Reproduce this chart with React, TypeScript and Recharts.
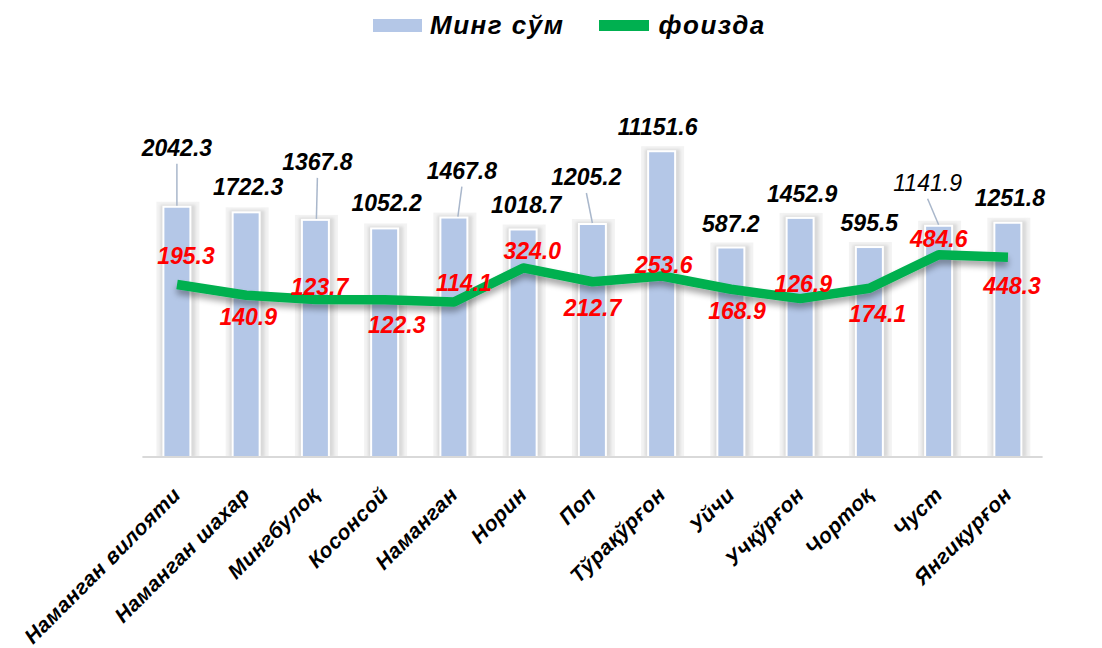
import React from 'react';
import { ComposedChart, Bar, Line, XAxis, YAxis, Legend, LabelList } from 'recharts';

const districts = [
  'Наманган вилояти', 'Наманган шахар', 'Мингбулоқ', 'Косонсой', 'Наманган', 'Норин', 'Поп',
  'Тўрақўрғон', 'Уйчи', 'Учқўрғон', 'Чортоқ', 'Чуст', 'Янгиқурғон',
];
const mingSum = [2042.3, 1722.3, 1367.8, 1052.2, 1467.8, 1018.7, 1205.2, 11151.6, 587.2, 1452.9, 595.5, 1141.9, 1251.8];
const foizda = [195.3, 140.9, 123.7, 122.3, 114.1, 324.0, 212.7, 253.6, 168.9, 126.9, 174.1, 484.6, 448.3];

const data = districts.map((name, i) => ({ name, sum: mingSum[i], pct: foizda[i] }));

// label nudges (dx, dy from bar top / line point), leader line flag
const barLabelPos: [number, number, boolean][] = [
  [0, -60, true], [2, -26, false], [2, -59, true], [2, -26, false], [8, -48, true], [3, -25, false],
  [-6, -48, true], [-4, -25, false], [0, -25, false], [2, -25, false], [0, -25, false], [-11, -44, true], [2, -26, false],
];
const lineLabelPos: [number, number][] = [
  [9, -29], [2, 22], [4, -12], [12, 25], [10, -19], [9, -17], [0, 26], [2, -11], [6, 22], [3, -15], [8, 26], [0, -16], [4, 29],
];

const FONT = 'Arial, "Liberation Sans", sans-serif';

const BarShape = (props: any) => {
  const { x, y, width, height } = props;
  if (height <= 0) return null;
  return (
    <g>
      <rect x={x - 8} y={y - 6} width={width + 18} height={height + 6} fill="#F3F3F3" />
      <rect x={x - 4} y={y - 3} width={width + 10} height={height + 3} fill="#D9D9D9" filter="url(#soft)" />
      <rect x={x - 2} y={y - 2} width={width + 4} height={height + 2} fill="#FFFFFF" />
      <rect x={x} y={y} width={width} height={height} fill="#B4C7E7" />
    </g>
  );
};

const BarLabel = (props: any) => {
  const { x, y, width, value } = props;
  const i = props.index ?? mingSum.indexOf(value);
  const [dx, dy, leader] = barLabelPos[i] || [0, -25, false];
  const cx = x + width / 2;
  const tx = cx + dx;
  const ty = y + dy;
  return (
    <g>
      {leader && (
        <line x1={tx} y1={ty + 16} x2={cx + (dx < -3 ? 0 : dx / 2)} y2={y - 2} stroke="#A9B7CB" strokeWidth={1.5} />
      )}
      <text x={tx} y={ty} dy={8} textAnchor="middle" fill="#000" fontFamily={FONT}
        fontSize={23} fontStyle="italic" fontWeight={i === 11 ? 'normal' : 'bold'}>
        {Number(value).toFixed(1)}
      </text>
    </g>
  );
};

const LineLabel = (props: any) => {
  const { x, y, value } = props;
  const i = props.index ?? foizda.indexOf(value);
  const [dx, dy] = lineLabelPos[i] || [0, -20];
  return (
    <text x={x + dx} y={y + dy} dy={8} textAnchor="middle" fill="#FF0000" fontFamily={FONT}
      fontSize={23} fontStyle="italic" fontWeight="bold">
      {Number(value).toFixed(1)}
    </text>
  );
};

const AxisTick = ({ x, y, payload }: any) => (
  <text x={x + 5} y={y + 31} textAnchor="end" transform={`rotate(-45, ${x + 5}, ${y + 31})`}
    fill="#000" fontFamily={FONT} fontSize={21} letterSpacing={0.5} fontStyle="italic" fontWeight="bold">
    {payload.value}
  </text>
);

const LegendBox = () => (
  <div style={{ display: 'flex', justifyContent: 'flex-start', alignItems: 'center', paddingLeft: 373, fontFamily: FONT,
    fontSize: 26, letterSpacing: 1.5, fontStyle: 'italic', fontWeight: 'bold', color: '#000' }}>
    <span style={{ display: 'inline-block', width: 49, height: 13, background: '#B4C7E7', marginRight: 8 }} />
    <span>Минг сўм</span>
    <span style={{ display: 'inline-block', width: 50, height: 11, background: '#00B050', marginLeft: 34, marginRight: 10 }} />
    <span>фоизда</span>
  </div>
);

export default function App() {
  return (
    <div style={{ position: 'absolute', left: 0, top: 0, width: 1102, height: 648, background: '#fff' }}>
      <ComposedChart width={1102} height={648} data={data}
        margin={{ top: 80.5, right: 59.4, left: 142.4, bottom: 161 }}>
        <defs>
          <filter id="soft" x="-50%" y="-10%" width="200%" height="120%">
            <feGaussianBlur stdDeviation="1.5" />
          </filter>
          <filter id="lineShadow" x="-10%" y="-50%" width="120%" height="200%">
            <feGaussianBlur in="SourceAlpha" stdDeviation="3" />
            <feOffset dx="0" dy="5" result="b" />
            <feComponentTransfer><feFuncA type="linear" slope="0.35" /></feComponentTransfer>
            <feMerge><feMergeNode /><feMergeNode in="SourceGraphic" /></feMerge>
          </filter>
        </defs>
        <XAxis dataKey="name" interval={0} height={30} tickLine={false} axisLine={{ stroke: '#D9D9D9', strokeWidth: 2 }}
          tick={<AxisTick />} />
        <YAxis scale="log" domain={[1, 100000]} hide allowDataOverflow />
        <Legend verticalAlign="middle" content={<LegendBox />}
          wrapperStyle={{ top: 10, left: 0, width: 1102 }} />
        <Bar dataKey="sum" name="Минг сўм" barSize={25} shape={<BarShape />} isAnimationActive={false}>
          <LabelList dataKey="sum" content={<BarLabel />} />
        </Bar>
        <Line dataKey="pct" name="фоизда" type="linear" stroke="#00B050" strokeWidth={9.5}
          strokeLinejoin="round" dot={false} activeDot={false} filter="url(#lineShadow)" isAnimationActive={false}>
          <LabelList dataKey="pct" content={<LineLabel />} />
        </Line>
      </ComposedChart>
    </div>
  );
}
